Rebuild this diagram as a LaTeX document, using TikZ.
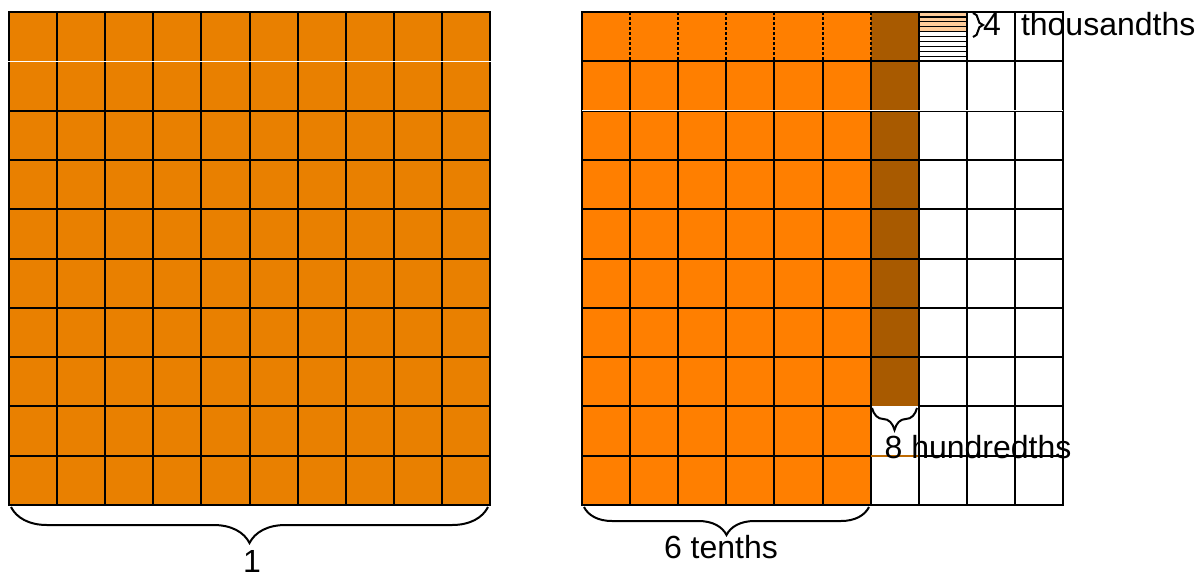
\documentclass[tikz,border=0pt]{standalone}
\usepackage{fontspec}
\setmainfont{Liberation Sans}
\usetikzlibrary{decorations.pathreplacing}
\definecolor{leftorange}{RGB}{233,128,0}
\definecolor{rightorange}{RGB}{255,127,0}
\definecolor{brownfill}{RGB}{168,90,0}
\definecolor{browngrid}{RGB}{190,105,0}
\definecolor{peach}{RGB}{255,204,153}
\begin{document}
\begin{tikzpicture}[x=1pt,y=-1pt,
  gridline/.style={line width=2pt, line cap=rect},
  dotline/.style={line width=2pt, dash pattern=on 3pt off 2pt},
  stripline/.style={line width=1.2pt},
  bracestyle/.style={decorate, decoration={brace,amplitude=#1}, line width=2pt},
  lbl/.style={font=\fontsize{32}{38}\selectfont, inner sep=0pt}]
\useasboundingbox (0,0) rectangle (1201,576);
% ---------------- left grid ----------------
\fill[leftorange] (9,12) rectangle (490,505);
\foreach \i in {0,...,10} {\draw[gridline] ({9+48.1*\i},12) -- ({9+48.1*\i},505);}
\foreach \j in {0,2,3,4,5,6,7,8,9,10} {\draw[gridline] (9,{12+49.3*\j}) -- (490,{12+49.3*\j});}
\draw[white, line width=1.5pt] (8,61.3) -- (491,61.3);
% ---------------- right grid ----------------
\fill[rightorange] (582,12) rectangle (870.6,505);
\fill[brownfill] (870.6,12) rectangle (918.7,406.4);
\foreach \k in {0,...,3} {\fill[peach] (918.7,{12+4.93*\k}) rectangle (966.8,{12+4.93*(\k+1)});}
\foreach \k in {1,...,9} {\draw[stripline] (918.7,{12+4.93*\k}) -- (966.8,{12+4.93*\k});}
% verticals
\draw[gridline] (582,12) -- (582,505);
\foreach \i in {1,...,6} {
  \draw[dotline] ({582+48.1*\i},12) -- ({582+48.1*\i},61.3);
  \draw[gridline] ({582+48.1*\i},61.3) -- ({582+48.1*\i},505);
}
\foreach \i in {7,8,9,10} {\draw[gridline] ({582+48.1*\i},12) -- ({582+48.1*\i},505);}
% horizontals
\foreach \j in {0,1,2,3,4,5,6,7,10} {\draw[gridline] (582,{12+49.3*\j}) -- (1063,{12+49.3*\j});}
\draw[white, line width=1pt] (582,110.6) -- (1063,110.6);
\draw[gridline] (582,406.4) -- (870.6,406.4);
\draw[gridline] (918.7,406.4) -- (1063,406.4);
\draw[gridline] (582,455.7) -- (870.6,455.7);
\draw[line width=2pt, browngrid] (870.6,455.7) -- (918.7,455.7);
\draw[gridline] (918.7,455.7) -- (1063,455.7);
% ---------------- braces ----------------
\draw[bracestyle=36pt] (488,507) -- (11,507);
\draw[bracestyle=28pt] (869,507) -- (584,507);
\draw[bracestyle=22pt] (917,408) -- (872,408);
\draw[bracestyle=10pt] (973,13) -- (973,37);
% ---------------- labels ----------------
\node[lbl, anchor=base] (one) at (252,572) {1};
\node[lbl, anchor=base] (tenths) at (721,558) {6 tenths};
\node[lbl, anchor=base] (hundredths) at (978,458) {8 hundredths};
\node[lbl, anchor=base west] (thousandths) at (983,35) {4\hspace{20pt}thousandths};
\end{tikzpicture}
\end{document}
